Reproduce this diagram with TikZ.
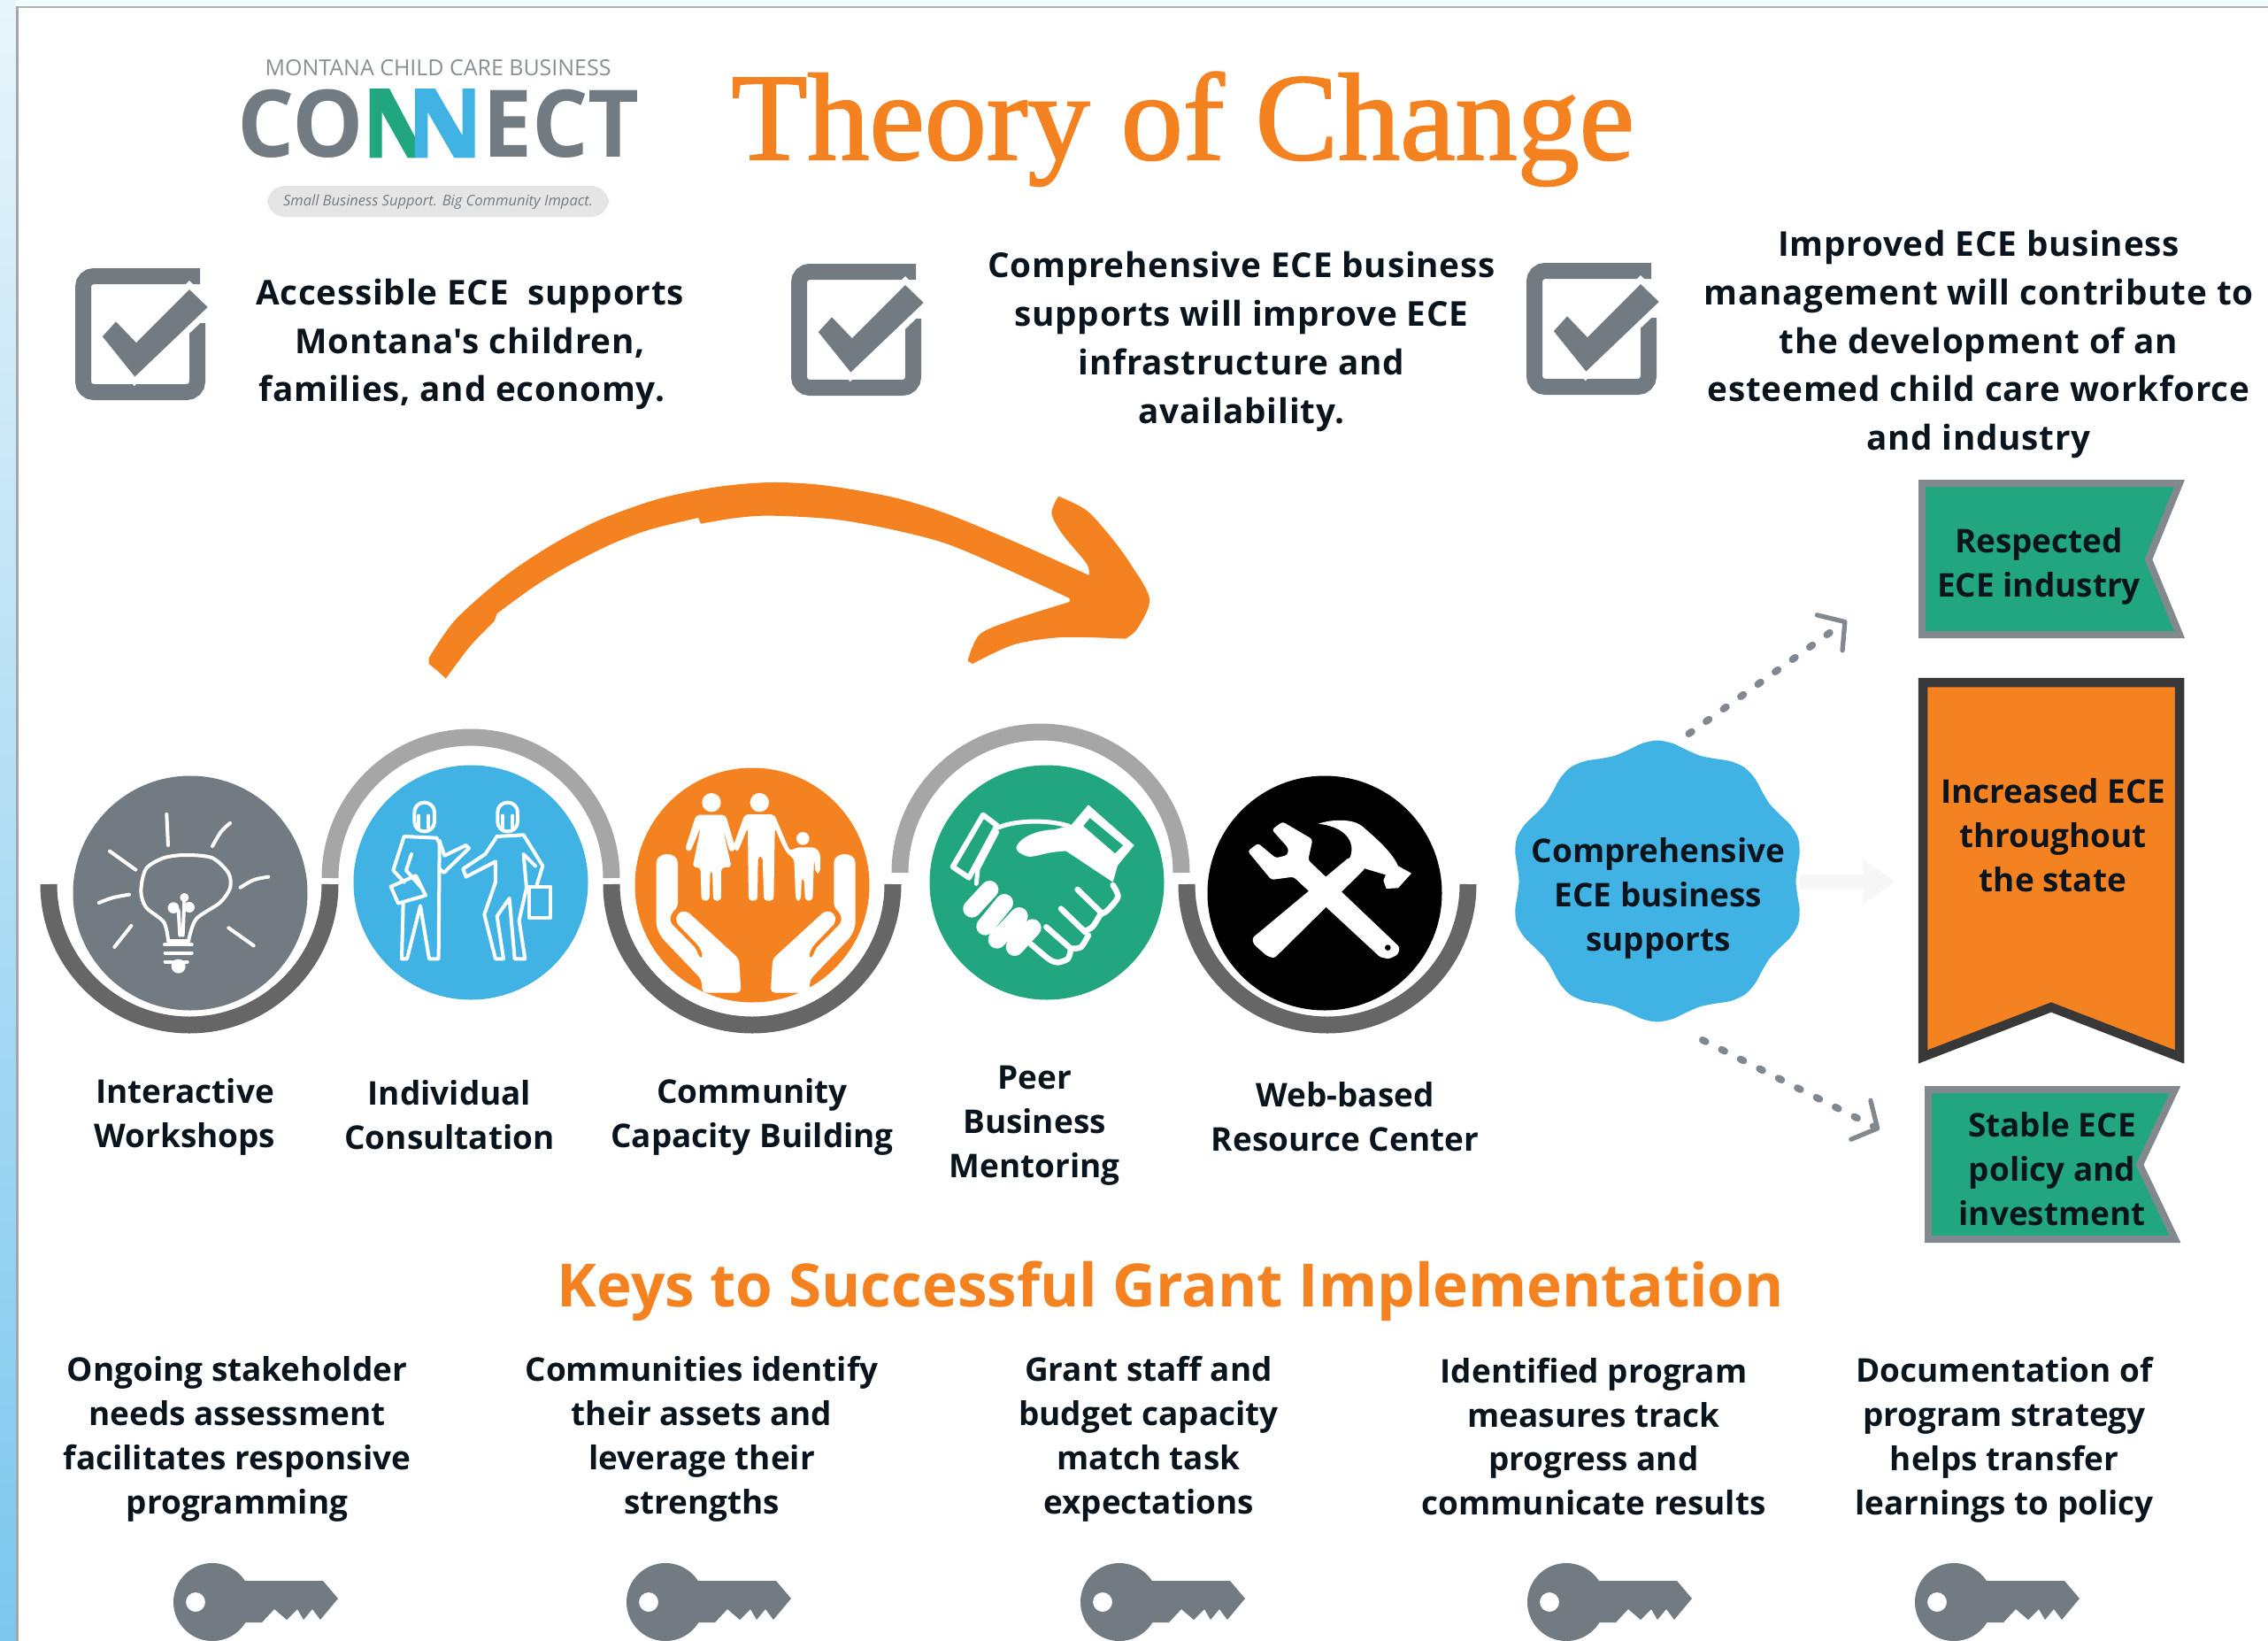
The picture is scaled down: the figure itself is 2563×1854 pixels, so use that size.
\documentclass[tikz,border=0pt]{standalone}
\usepackage{fontspec}
\setmainfont{Open Sans}
\newfontfamily\bodyfont{Open Sans}
\newfontfamily\titlefont[FakeBold=1.5]{Liberation Serif}
\usetikzlibrary{arrows.meta}

\definecolor{brandorange}{HTML}{F58220}
\definecolor{brandblue}{HTML}{41B2E4}
\definecolor{brandgreen}{HTML}{21A67F}
\definecolor{brandgray}{HTML}{737B82}
\definecolor{arcdark}{HTML}{666666}
\definecolor{arclight}{HTML}{A6A6A6}
\definecolor{inkblack}{HTML}{0A141C}

\tikzset{
  bodytext/.style={font=\bodyfont\bfseries\fontsize{11}{15.6}\selectfont\addfontfeature{LetterSpace=2}, align=center, inner sep=0pt, text=inkblack},
  labeltext/.style={font=\bodyfont\bfseries\fontsize{10.5}{14.2}\selectfont, align=center, inner sep=0pt, text=inkblack},
  icon/.style={white, line width=0.4mm, line join=round, line cap=round},
  dotted arrow/.style={brandgray!90, line width=0.8mm, line cap=round, dash pattern=on 0.4mm off 2mm,
    -{Straight Barb[length=6pt,width=14pt,line width=1.5pt,round]}},
  banner/.style={line width=0.8mm, miter limit=10},
}

\begin{document}
\begin{tikzpicture}[x=0.1mm, y=-0.1mm]
  \useasboundingbox (0,0) rectangle (2563,1854);

  % window edge
  \fill[color=white] (0,0) rectangle (2563,1854);
  \fill[color=blue!8!cyan!6] (0,0) rectangle (2563,7);
  \shade[top color={rgb,255:red,232;green,244;blue,250}, bottom color={rgb,255:red,124;green,199;blue,238}] (0,0) rectangle (18,1854);
  \fill[color=black!30] (18,7) rectangle (2563,9);
  \fill[color=black!35] (18,7) rectangle (21,1854);

  % logo
  \node[font=\fontsize{7.1}{9}\selectfont, text=brandgray!85, inner sep=0pt] (logotop) at (495,77) {MONTANA CHILD CARE BUSINESS};
  \node[font=\bfseries\fontsize{30}{30}\selectfont, text=brandgray, inner sep=0pt, xscale=0.96, anchor=base] (logoco) at (340,177) {CO};
  \node[font=\bfseries\fontsize{30}{30}\selectfont, text=brandgray, inner sep=0pt, xscale=0.95, anchor=base] (logoect) at (634,177) {ECT};
  \begin{scope}[shift={(390,90)}, scale=0.3333]
    \fill[color=brandgreen] (83,30) -- (150,30) -- (240,200) -- (240,265) -- (212,265) -- (125,110) -- (125,265) -- (83,265) -- cycle;
    \fill[color=brandblue] (237,265) -- (237,30) -- (305,30) -- (398,190) -- (398,30) -- (440,30) -- (440,265) -- (370,265) -- (280,110) -- (280,265) -- cycle;
  \end{scope}
  \fill[color=black!10, rounded corners=2mm] (302,210) rectangle (688,245);
  \node[font=\itshape\fontsize{4.7}{6}\selectfont, text=brandgray, inner sep=0pt] (logotag) at (495,228) {Small Business Support. Big Community Impact.};

  % title
  \node[font=\titlefont\fontsize{39.9}{40}\selectfont, text=brandorange, inner sep=0pt, anchor=base west] (title) at (826,180) {Theory of Change};

  % check boxes
  \foreach \ox/\oy in {0/0, 809/-5, 1640/-6} {
    \begin{scope}[shift={(\ox,\oy)}]
      \draw[color=brandgray, line width=1.8mm, rounded corners=1.2mm] (223,365) -- (223,443) -- (94,443) -- (94,312) -- (226,312);
      \filldraw[color=white, fill=brandgray, line width=0.7mm] (111,380) -- (131,358) -- (154,382) -- (214,322) -- (240,347) -- (152,431) -- cycle;
    \end{scope}
  }
  \node[bodytext] (claima) at (531,389) {Accessible ECE\ \ supports\\Montana's children,\\families, and economy.\hspace*{1.8mm}};
  \node[bodytext] (claimb) at (1403,386) {Comprehensive ECE business\\supports will improve ECE\\infrastructure and\\availability.};
  \node[bodytext] (claimc) at (2236,389) {Improved ECE business\\management will contribute to\\the development of an\\esteemed child care workforce\\and industry};

  % big arrow
  \begin{scope}[shift={(460,520)}, xscale=0.5485, yscale=0.3333]
    \fill[color=brandorange] plot[smooth] coordinates {(45,670) (100,540) (200,395) (300,285) (400,200) (520,130) (640,90) (750,75) (860,85) (1000,125) (1110,180) (1250,275) (1405,390)}
      -- plot[smooth] coordinates {(1405,390) (1400,350) (1350,250) (1328,180) (1342,122)}
      -- plot[smooth] coordinates {(1342,122) (1400,170) (1450,260) (1490,350) (1530,470) (1505,570) (1480,605)}
      -- plot[smooth] coordinates {(1480,605) (1350,600) (1250,625) (1165,690)}
      -- (1155,680)
      -- plot[smooth] coordinates {(1155,680) (1180,590) (1250,540) (1365,480)}
      -- (1365,468)
      -- plot[smooth] coordinates {(1365,468) (1250,380) (1115,285) (1000,235) (880,200) (750,188) (680,195) (605,215)}
      -- (600,195)
      -- plot[smooth] coordinates {(600,195) (500,235) (420,285) (330,360) (260,430) (185,520)}
      -- (180,545)
      -- plot[smooth] coordinates {(180,545) (130,630) (80,740)}
      -- (60,710) -- (45,690) -- cycle;
  \end{scope}

  % arcs and discs
  \foreach \ax/\ay in {214/999, 850/999, 1500/999}
    \draw[color=arcdark, line width=1.9mm] (\ax-159,\ay) arc[start angle=180, end angle=0, radius=159];
  \foreach \ax/\ay in {532/992, 1176/986}
    \draw[color=arclight, line width=1.9mm] (\ax-159,\ay) arc[start angle=180, end angle=360, radius=159];
  \foreach \cx/\cy/\col in {215/1009/brandgray, 532/997/brandblue, 850/1000/brandorange, 1183/997/brandgreen, 1497/1009/black}
    \fill[color=\col] (\cx,\cy) circle (132.5);

  % bulb
  \begin{scope}[shift={(70,860)}, scale=0.3333]
    \draw[icon] (355,180) -- (360,285);
    \draw[icon] (570,210) .. controls (540,235) .. (510,288);
    \draw[icon] (162,305) -- (250,368);
    \draw[icon] (700,392) .. controls (650,400) .. (605,428);
    \draw[icon] (125,480) .. controls (170,462) .. (228,452);
    \draw[icon] (235,558) -- (178,630);
    \draw[icon] (565,565) -- (650,625);
    \draw[icon] plot[smooth] coordinates {(360,605) (345,545) (285,495) (268,440) (285,365) (345,328) (420,318) (510,328) (565,380) (570,430) (535,480) (455,535) (430,605)};
    \draw[icon] (360,610) -- (430,610) (348,622) -- (440,622) (350,650) -- (440,650) (350,680) -- (425,680);
    \fill[color=white] (395,695) circle (24);
    \fill[color=white] (378,497) circle (19) (432,495) circle (18) (415,462) circle (15);
    \draw[icon] (395,505) -- (400,590) (415,470) -- (410,590);
  \end{scope}

  % people
  \begin{scope}[shift={(385,850)}, scale=0.3333]
    \draw[icon, rounded corners=1.1mm] (250,170) rectangle (318,268);
    \draw[icon, rounded corners=1.1mm] (532,170) rectangle (600,268);
    \draw[icon] (265,215) -- (265,255) (298,215) -- (298,255) (548,215) -- (548,255) (582,215) -- (582,255);
    \draw[icon] (325,290) -- (215,285) -- (178,400) -- (215,440);
    \draw[icon] (240,345) -- (222,400) -- (275,460);
    \draw[icon] (170,455) -- (255,418) -- (288,485) -- (195,512) -- cycle;
    \draw[icon] (325,290) -- (335,310) -- (332,700) -- (300,700) -- (270,520) -- (225,700) -- (207,700) -- (212,510);
    \draw[icon] (335,300) -- (352,350) -- (425,315) -- (435,325) -- (350,408) -- (335,395);
    \draw[icon] (530,285) -- (620,280) -- (685,385) -- (665,450);
    \draw[icon] (530,285) -- (490,345) -- (415,395) -- (425,422) -- (525,370) -- (525,440) -- (487,550) -- (525,700) -- (552,700) -- (530,555) -- (572,495) -- (590,700) -- (625,700) -- (605,570) -- (630,460) -- (620,345) -- (660,385);
    \draw[icon] (640,455) rectangle (712,560);
  \end{scope}

  % family and hands
  \begin{scope}[shift={(700,850)}, scale=0.3333]
    \fill[color=white] (312,170) circle (32) (475,170) circle (32) (622,292) circle (22);
    \fill[color=white, rounded corners=0.4mm] (260,212) -- (360,212) -- (395,330) -- (375,340) -- (350,255) -- (380,390) -- (345,390) -- (345,503) -- (318,503) -- (315,400) -- (308,400) -- (305,503) -- (278,503) -- (275,390) -- (248,390) -- (275,255) -- (240,338) -- (222,330) -- cycle;
    \fill[color=white, rounded corners=0.4mm] (425,210) -- (525,210) -- (578,335) -- (600,322) -- (665,322) -- (682,345) -- (680,410) -- (665,410) -- (660,360) -- (655,503) -- (630,503) -- (625,425) -- (618,425) -- (615,503) -- (598,503) -- (592,360) -- (570,345) -- (550,310) -- (527,255) -- (523,503) -- (490,503) -- (485,352) -- (470,352) -- (468,503) -- (438,503) -- (435,255) -- (400,340) -- (385,320) -- cycle;
    \foreach \sx in {1,-1} {
      \begin{scope}[shift={(462.5,0)}, xscale=\sx]
        \fill[color=white, rounded corners=0.5mm] (-337.5,390) .. controls (-337.5,335) and (-264.5,335) .. (-264.5,390) -- (-264.5,525) -- (-287,545) -- (-292,575) -- (-200,668) -- (-193,698) -- (-177,698) -- (-190,660) -- (-272,575) -- (-267,545) -- (-237,535) -- (-57,700) -- (-50,815) -- (-182,815) -- (-184,770) -- (-322,625) -- (-337.5,590) -- cycle;
      \end{scope}
    }
  \end{scope}

  % handshake
  \begin{scope}[shift={(1035,850)}, scale=0.3333]
    \draw[icon, line width=0.6mm] (125,388) -- (228,212) -- (275,248) -- (180,425) -- cycle;
    \draw[icon, line width=0.5mm] (280,255) .. controls (330,232) and (440,225) .. (520,250);
    \draw[icon, line width=0.5mm] (275,270) -- (210,395) -- (205,445);
    \filldraw[color=white, even odd rule, line width=0.1mm] (585,180) -- (738,315) -- (685,380) -- (530,245) -- cycle (565,250) -- (590,220) -- (705,315) -- (675,345) -- cycle;
    \fill[color=white] (340,322) .. controls (350,290) and (410,262) .. (470,262) -- (530,245) -- (685,380) -- (668,440) -- (510,335) .. controls (440,335) and (400,360) .. (375,352) .. controls (355,345) and (340,335) .. (340,322) -- cycle;
    \draw[icon, line width=0.65mm] plot[smooth] coordinates {(668,450) (685,490) (650,535) (625,550)} ;
    \draw[icon, line width=0.65mm] plot[smooth] coordinates {(625,550) (600,590) (575,605)};
    \draw[icon, line width=0.65mm] plot[smooth] coordinates {(585,620) (560,660) (530,665)};
    \draw[icon, line width=0.65mm] plot[smooth] coordinates {(525,670) (515,700) (480,712) (450,700) (390,650)};
    \draw[icon, line width=0.65mm] (548,465) -- (625,540) (492,530) -- (575,610) (442,592) -- (525,665);
    \draw[white, line width=2mm, line cap=round] (250,465) -- (190,530) (300,510) -- (235,590) (350,555) -- (275,635) (395,595) -- (335,660);
  \end{scope}

  % tools
  \begin{scope}[shift={(1350,860)}, scale=0.3333]
    \fill[color=white, rounded corners=0.3mm] (180,305) -- (215,278) -- (275,328) -- (315,318) -- (318,295) -- (262,232) -- (298,205) -- (400,265) -- (385,335) -- (695,630) -- (690,655) -- (660,670) -- (630,665) -- (335,392) -- (260,402) -- cycle;
    \fill[color=white, rounded corners=0.3mm] (195,600) -- (525,325) -- (580,362) -- (270,668) -- (245,660) -- (200,620) -- cycle;
    \fill[color=white] (420,212) .. controls (470,195) and (540,195) .. (570,222) .. controls (620,265) and (670,310) .. (690,355) -- (735,380) -- (690,430) -- (650,432) -- (640,405) -- (648,385) -- (580,365) -- (525,330) .. controls (545,290) and (530,225) .. (420,212) -- cycle;
    \fill[color=black] (655,632) circle (10);
  \end{scope}

  % labels under the discs
  \node[labeltext] (worklabel) at (209,1262) {Interactive\\Workshops};
  \node[labeltext] (consultlabel) at (508,1260) {Individual\\Consultation};
  \node[labeltext] (capacitylabel) at (850,1262) {Community\\Capacity Building};
  \node[labeltext] (mentorlabel) at (1169,1272) {Peer\\Business\\Mentoring};
  \node[labeltext] (resourcelabel) at (1520,1262) {Web-based\\Resource Center};

  % badge
  \fill[color=brandblue] plot[smooth cycle, domain=0:354, samples=60, variable=\t] ({1873+1.05*(154+5*cos(10*\t-900))*cos(\t)},{995.5-(154+5*cos(10*\t-900))*sin(\t)});
  \node[shape=circle, minimum size=34mm, inner sep=0pt] (badge) at (1873,996) {};
  \node[labeltext] (badgetext) at (1874,1015) {Comprehensive\\ECE business\\supports};

  % outcome banners
  \draw[banner, color=brandgray!90, fill=brandgreen] (2172,546) -- (2463,546) -- (2428,632) -- (2463,717) -- (2172,717) -- cycle;
  \draw[banner, line width=1.05mm, color=black!78, fill=brandorange] (2173,771) -- (2463,771) -- (2463,1194) -- (2318,1138) -- (2173,1194) -- cycle;
  \draw[banner, color=brandgray!90, fill=brandgreen] (2179,1231) -- (2458,1231) -- (2418,1316) -- (2458,1400) -- (2179,1400) -- cycle;
  \node[labeltext] (industry) at (2304,640) {Respected\\ECE industry};
  \node[labeltext] (throughout) at (2320,944) {Increased ECE\\throughout\\the state};
  \node[labeltext] (policy) at (2319,1321) {Stable ECE\\policy and\\investment};

  % connectors
  \coordinate (tipup) at (2087,701);
  \coordinate (tipmid) at (2142,996);
  \coordinate (tipdown) at (2124,1276);
  \coordinate (badgelow) at (1924,1175);
  \draw[dotted arrow] (badge.78) -- (tipup);
  \draw[dotted arrow] (badgelow) -- (tipdown);
  \draw[color=black!3, line width=1.7mm, -{Triangle[length=10.5pt,width=14pt]}] ([xshift=-1mm]badge.east) -- (tipmid);

  % keys heading
  \node[font=\bfseries\fontsize{19.2}{22}\selectfont, text=brandorange, inner sep=0pt] (keyhead) at (1323,1459) {Keys to Successful Grant Implementation};

  \node[labeltext] (keya) at (268,1626) {Ongoing stakeholder\\needs assessment\\facilitates responsive\\programming};
  \node[labeltext] (keyb) at (793,1626) {Communities identify\\their assets and\\leverage their\\strengths};
  \node[labeltext] (keyc) at (1298,1626) {Grant staff and\\budget capacity\\match task\\expectations};
  \node[labeltext] (keyd) at (1801,1623) {Identified program\\measures track\\progress and\\communicate results};
  \node[labeltext] (keye) at (2265,1627) {Documentation of\\program strategy\\helps transfer\\learnings to policy};

  % keys
  \foreach \kx in {0, 512, 1025, 1530, 1968} {
    \begin{scope}[shift={(\kx,0)}]
      \fill[color=brandgray, even odd rule] (240,1810) circle (44) (221,1810) circle (11);
      \fill[color=brandgray] (270,1786) -- (365,1786) -- (382,1806) -- (362,1830) -- (353,1818) -- (343,1830) -- (336,1818) -- (324,1830) -- (310,1818) -- (296,1833) -- (270,1833) -- cycle;
    \end{scope}
  }
\end{tikzpicture}
\end{document}
